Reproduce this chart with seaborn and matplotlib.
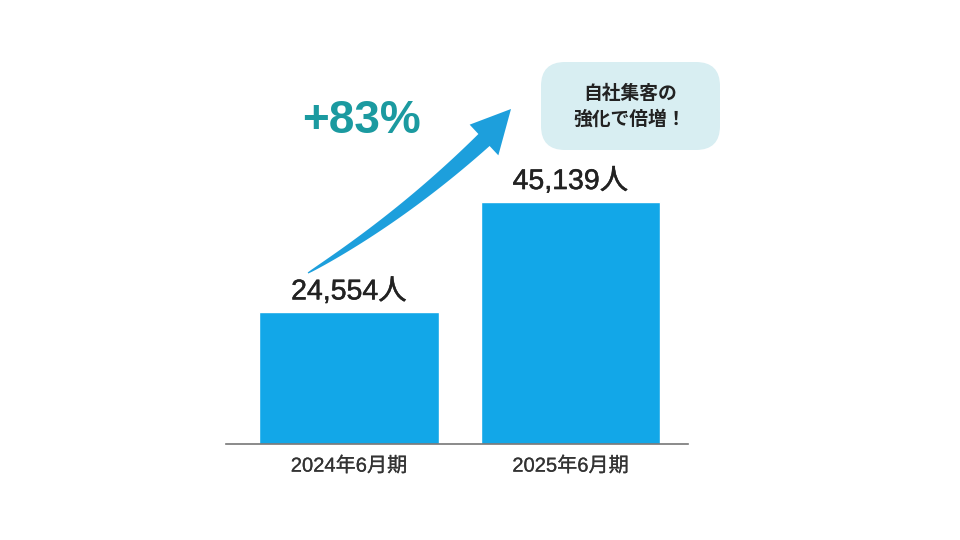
import numpy as np
import pandas as pd
import matplotlib
matplotlib.use("Agg")
import matplotlib.pyplot as plt
import matplotlib.patheffects as pe
from matplotlib.patches import Polygon, FancyBboxPatch
import seaborn as sns

sns.set_theme(style="white")
plt.rcParams['font.family'] = ['Liberation Sans', 'Noto Sans CJK JP', 'DejaVu Sans']

# Data ######################################################
periods = ['2024年6月期', '2025年6月期']
visitors = [24554, 45139]
value_labels = ['24,554人', '45,139人']
growth_label = '+83%'
callout_text = '自社集客の\n強化で倍増！'

bar_color = '#12a7e8'
arrow_color = '#1d9fdc'
teal = '#1b9aa0'

df = pd.DataFrame({'period': periods, 'visitors': visitors})

# Figure ####################################################
W, H = 960, 540
fig = plt.figure(figsize=(9.6, 5.4), dpi=100)
ax = fig.add_axes([226 / W, 96 / H, 462 / W, 404 / H])

sns.barplot(data=df, x='period', y='visitors', ax=ax, color=bar_color,
            saturation=1, width=0.81)
ax.set_xlim(-0.555, 1.531)
ax.set_ylim(0, 75360)

# value labels above bars (slightly heavier than regular)
for i, (v, lab) in enumerate(zip(visitors, value_labels)):
    ax.text(i, v + 1300, lab, ha='center', va='bottom', fontsize=20.5,
            color='#222222',
            path_effects=[pe.withStroke(linewidth=0.35, foreground='#222222')])

# axes styling
for s in ['top', 'right', 'left']:
    ax.spines[s].set_visible(False)
ax.spines['bottom'].set_color('#777777')
ax.spines['bottom'].set_linewidth(1.2)
ax.set_yticks([])
ax.set_xlabel('')
ax.set_ylabel('')
ax.tick_params(axis='x', length=0, pad=9, labelsize=14.5, labelcolor='#333333')
for lbl in ax.get_xticklabels():
    lbl.set_path_effects([pe.withStroke(linewidth=0.15, foreground='#333333')])


# curved tapered arrow (pixel coords from top-left) ##########
def px(x, y):
    return (x / W, 1 - y / H)


p0 = np.array([308.0, 273.0])
p1 = np.array([402.0, 217.0])
p2 = np.array([484.0, 140.0])
t = np.linspace(0, 1, 50)
pts = ((1 - t)[:, None] ** 2) * p0 + (2 * (1 - t) * t)[:, None] * p1 + (t[:, None] ** 2) * p2
d = np.gradient(pts, axis=0)
d /= np.linalg.norm(d, axis=1)[:, None]
nrm = np.column_stack([-d[:, 1], d[:, 0]])
half_w = 0.6 + 7.6 * t ** 0.75
left = pts + nrm * half_w[:, None]
right = pts - nrm * half_w[:, None]
tip = np.array([511.0, 109.0])
n_end = nrm[-1]
head_l = p2 + n_end * 21
head_r = p2 - n_end * 21
shape = np.vstack([left, head_l, tip, head_r, right[::-1]])
fig.add_artist(Polygon([px(x, y) for x, y in shape], closed=True,
                       transform=fig.transFigure, facecolor=arrow_color,
                       edgecolor='none'))

# growth label
fig.text(*px(362, 121), growth_label, ha='center', va='center',
         fontsize=33, fontweight='bold', color=teal)

# callout bubble
bx0, by0 = px(541, 150)
bx1, by1 = px(720, 62)
fig.add_artist(FancyBboxPatch((bx0, by0), bx1 - bx0, by1 - by0,
                              boxstyle='round,pad=0,rounding_size=0.025',
                              transform=fig.transFigure,
                              facecolor='#d8eef2', edgecolor='none',
                              mutation_aspect=W / H))
fig.text(*px(630, 106), callout_text, ha='center', va='center',
         fontsize=13.5, fontweight='bold', color='#222222',
         linespacing=1.45, family=['Noto Sans CJK JP', 'DejaVu Sans'])

fig.savefig('out.png', dpi=100, facecolor='white')
